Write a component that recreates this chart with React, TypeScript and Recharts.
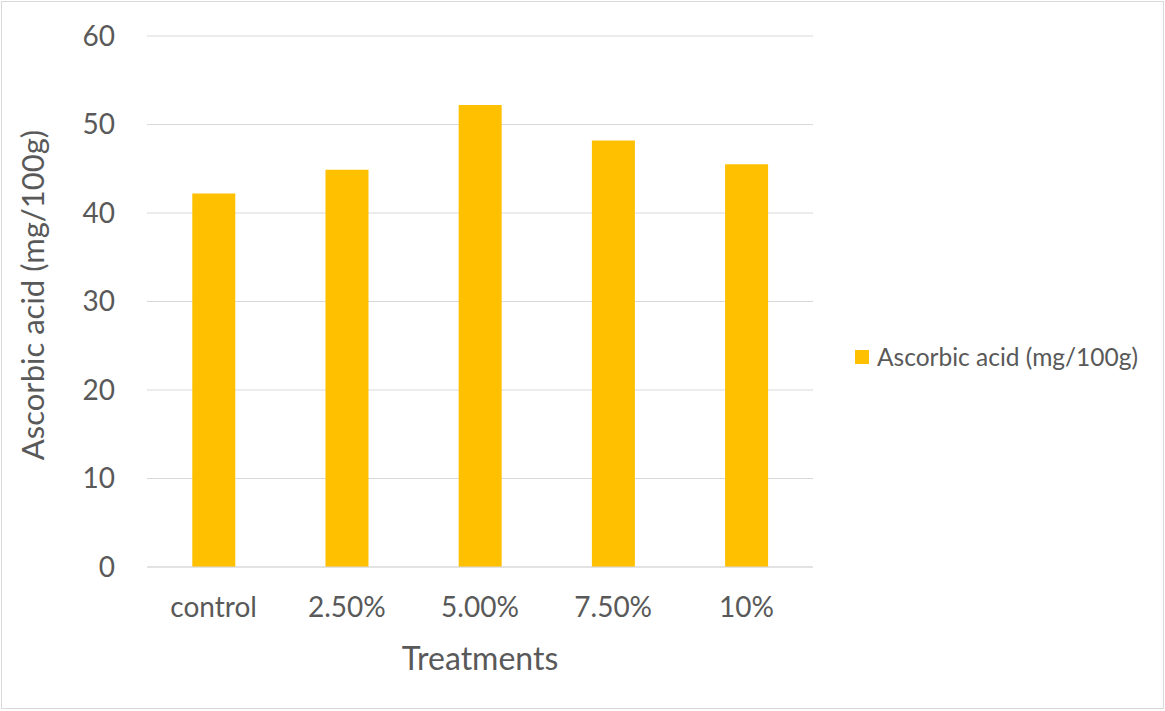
import React from 'react';
import { BarChart, Bar, XAxis, YAxis, CartesianGrid } from 'recharts';

const categories = ['control', '2.50%', '5.00%', '7.50%', '10%'];
const ascorbicValues = [42.2, 44.9, 52.2, 48.2, 45.5];
const yTicks = [0, 10, 20, 30, 40, 50, 60];
const seriesName = 'Ascorbic acid (mg/100g)';
const xTitle = 'Treatments';
const yTitle = 'Ascorbic acid (mg/100g)';

const data = categories.map((c, i) => ({ name: c, value: ascorbicValues[i] }));

const FONT = 'Lato, "Open Sans", sans-serif';
const TEXT = '#595959';
const BAR = '#FFC000';

export default function App() {
  return (
    <div style={{ position: 'fixed', left: 0, top: 0, width: 1165, height: 711, background: '#fff' }}>
      <div style={{ position: 'absolute', left: 1, top: 1, width: 1163, height: 708, border: '1px solid #d9d9d9', boxSizing: 'border-box' }} />
      <BarChart
        width={1165}
        height={711}
        data={data}
        margin={{ top: 36, right: 352, bottom: 84, left: 47 }}
        barCategoryGap="34%"
        style={{ position: 'absolute', left: 0, top: 0 }}
      >
        <CartesianGrid vertical={false} stroke="#d9d9d9" strokeWidth={1} />
        <XAxis
          dataKey="name"
          height={60}
          axisLine={{ stroke: '#d9d9d9' }}
          tickLine={false}
          tickSize={0}
          tickMargin={30}
          tick={{ fill: TEXT, fontSize: 28, fontFamily: FONT }}
          interval={0}
        />
        <YAxis
          width={100}
          domain={[0, 60]}
          ticks={yTicks}
          axisLine={false}
          tickLine={false}
          tickSize={0}
          tickMargin={32}
          tick={{ fill: TEXT, fontSize: 28, fontFamily: FONT }}
          interval={0}
        />
        <Bar dataKey="value" name={seriesName} fill={BAR} isAnimationActive={false} />
      </BarChart>
      <div style={{ position: 'absolute', left: 855, top: 343, display: 'flex', alignItems: 'center', fontFamily: FONT, fontSize: 24.5, color: TEXT, whiteSpace: 'nowrap', lineHeight: '28px' }}>
        <span style={{ display: 'inline-block', width: 14, height: 14, background: BAR, marginRight: 8 }} />
        <span>{seriesName}</span>
      </div>
      <div style={{ position: 'absolute', left: 280, width: 400, top: 638, textAlign: 'center', fontFamily: FONT, fontSize: 32, color: TEXT, lineHeight: '40px' }}>
        {xTitle}
      </div>
      <div style={{ position: 'absolute', left: 32, top: 295, width: 0, height: 0 }}>
        <div style={{ position: 'absolute', left: -250, top: -20, width: 500, height: 40, lineHeight: '40px', textAlign: 'center', transform: 'rotate(-90deg)', fontFamily: FONT, fontSize: 31, color: TEXT, whiteSpace: 'nowrap' }}>
          {yTitle}
        </div>
      </div>
    </div>
  );
}
